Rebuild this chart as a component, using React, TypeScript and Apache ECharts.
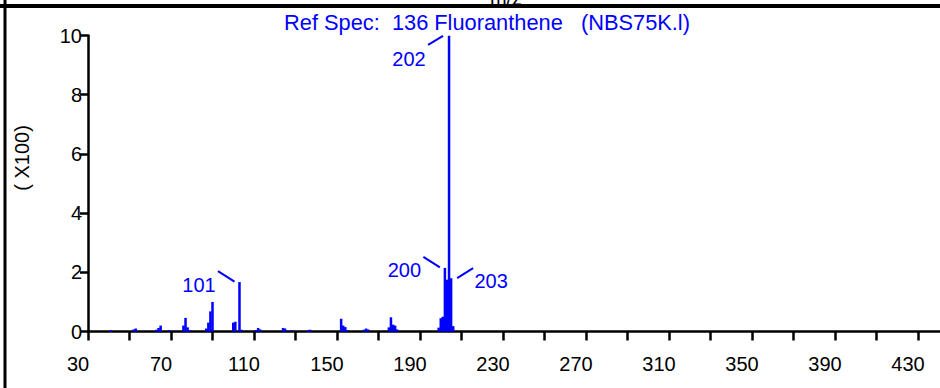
import React, { useEffect, useRef } from 'react';
import * as echarts from 'echarts';

const FONT = "'Liberation Sans', Arial, Helvetica, sans-serif";
const BLUE = '#0000ff';

// Reference mass spectrum of fluoranthene (NBS75K library)
const massToCharge = [
  39, 50, 51, 61, 62, 63, 67, 74, 75, 76, 77, 85, 86, 87, 88, 98, 99, 101, 102,
  109, 110, 111, 122, 123, 126, 134, 135, 150, 151, 152, 153, 161, 162, 163,
  173, 174, 175, 176, 177, 197, 198, 199, 200, 201, 202, 203, 204,
];
// abundance of each line, in units of 100 counts
const abundance = [
  0.05, 0.07, 0.1, 0.06, 0.12, 0.2, 0.05, 0.2, 0.46, 0.14, 0.05, 0.1, 0.3, 0.68, 1.0, 0.3, 0.33, 1.67, 0.06,
  0.05, 0.12, 0.07, 0.12, 0.1, 0.04, 0.05, 0.06, 0.43, 0.2, 0.15, 0.05, 0.06, 0.1, 0.07,
  0.14, 0.48, 0.23, 0.2, 0.07, 0.13, 0.45, 0.5, 2.15, 1.75, 9.99, 1.8, 0.18,
];
// lines tagged with their m/z
const taggedPeaks = [101, 200, 202, 203];
const tagSide: Record<number, string> = { 101: 'left', 200: 'left', 202: 'below', 203: 'right' };

// m/z axis: ticks every 20, labels every 40 starting at 30
const mzMin = 30;
const mzMax = 450;
const mzTickStep = 20;
const mzLabelStep = 40;

const titleText = 'Ref Spec:  136 Fluoranthene   (NBS75K.l)';
const yAxisTitle = '( X100)';
const xAxisTitle = 'm/z';

// pixel offsets of the leader line and tag text, relative to the top of the line
const tagGeometry: Record<string, { line: number[]; text: number[] }> = {
  left: { line: [-21.5, -11, -5, -0.5], text: [-40.5, 2.5] },
  below: { line: [-21, 9, -6, 0], text: [-40, 23] },
  right: { line: [6, 0, 22, -10], text: [40, 3] },
};

export default function App() {
  const ref = useRef<HTMLDivElement>(null);

  useEffect(() => {
    if (!ref.current) return;
    const chart = echarts.init(ref.current, null, { renderer: 'svg' });

    const lines = massToCharge.map((m, i) => [m, abundance[i]]);
    const tags = taggedPeaks.map((m) => [m, abundance[massToCharge.indexOf(m)]]);

    chart.setOption({
      animation: false,
      backgroundColor: '#ffffff',
      grid: {
        left: 88,
        right: -19.5,
        top: 35.5,
        bottom: 56.5,
        containLabel: false,
        outerBoundsMode: 'none',
      },
      xAxis: [
        {
          type: 'value',
          min: mzMin,
          max: mzMax,
          interval: mzTickStep,
          position: 'bottom',
          splitLine: { show: false },
          axisLine: { show: true, onZero: false, lineStyle: { color: '#000', width: 2.5 } },
          axisTick: { show: true, length: 9, lineStyle: { color: '#000', width: 2.5 } },
          axisLabel: {
            show: true,
            color: '#000',
            fontSize: 20,
            fontFamily: FONT,
            margin: 22,
            padding: [0, 20, 0, 0],
            showMaxLabel: false,
            showMinLabel: true,
            formatter: (v: number) => ((v - mzMin) % mzLabelStep === 0 ? String(v) : ''),
          },
        },
        {
          // data axis for the spectrum lines
          type: 'value',
          min: mzMin - 2,
          max: mzMax - 2,
          show: false,
          splitLine: { show: false },
        },
      ],
      yAxis: {
        type: 'value',
        min: 0,
        max: 10,
        interval: 2,
        splitLine: { show: false },
        axisLine: { show: true, lineStyle: { color: '#000', width: 2.5 } },
        axisTick: { show: true, length: 8, lineStyle: { color: '#000', width: 2.5 } },
        axisLabel: {
          show: true,
          color: '#000',
          fontSize: 20,
          fontFamily: FONT,
          margin: 6,
          padding: [13, 0, 0, 0],
        },
      },
      series: [
        {
          type: 'bar',
          xAxisIndex: 1,
          data: lines,
          barWidth: 2.5,
          itemStyle: { color: BLUE },
          silent: true,
        },
        {
          type: 'custom',
          xAxisIndex: 1,
          data: tags,
          clip: false,
          z: 5,
          silent: true,
          renderItem: (params: any, api: any) => {
            const mz = api.value(0);
            const p = api.coord([mz, api.value(1)]);
            const g = tagGeometry[tagSide[mz]];
            return {
              type: 'group',
              children: [
                {
                  type: 'line',
                  shape: { x1: p[0] + g.line[0], y1: p[1] + g.line[1], x2: p[0] + g.line[2], y2: p[1] + g.line[3] },
                  style: { stroke: BLUE, lineWidth: 2 },
                },
                {
                  type: 'text',
                  x: p[0] + g.text[0],
                  y: p[1] + g.text[1],
                  style: {
                    text: String(mz),
                    fill: BLUE,
                    fontSize: 20,
                    fontFamily: FONT,
                    align: 'center',
                    verticalAlign: 'middle',
                  },
                },
              ],
            };
          },
        },
      ],
      graphic: [
        {
          type: 'text',
          x: 506,
          y: 8,
          style: { text: xAxisTitle, fill: '#000', fontSize: 20, fontFamily: FONT, align: 'center', verticalAlign: 'bottom' },
        },
        { type: 'rect', shape: { x: 0, y: 4, width: 940, height: 4 }, style: { fill: '#000' } },
        { type: 'rect', shape: { x: 3.5, y: 0, width: 3, height: 388 }, style: { fill: '#000' } },
        {
          type: 'text',
          x: 487,
          y: 22,
          style: { text: titleText, fill: BLUE, fontSize: 21.8, fontFamily: FONT, align: 'center', verticalAlign: 'middle' },
        },
        {
          type: 'text',
          x: 22,
          y: 158,
          rotation: Math.PI / 2,
          style: { text: yAxisTitle, fill: '#000', fontSize: 20, fontFamily: FONT, align: 'center', verticalAlign: 'middle' },
        },
      ],
    });

    return () => chart.dispose();
  }, []);

  return (
    <div
      ref={ref}
      style={{ position: 'absolute', left: 0, top: 0, width: 940, height: 388, background: '#fff' }}
    />
  );
}
